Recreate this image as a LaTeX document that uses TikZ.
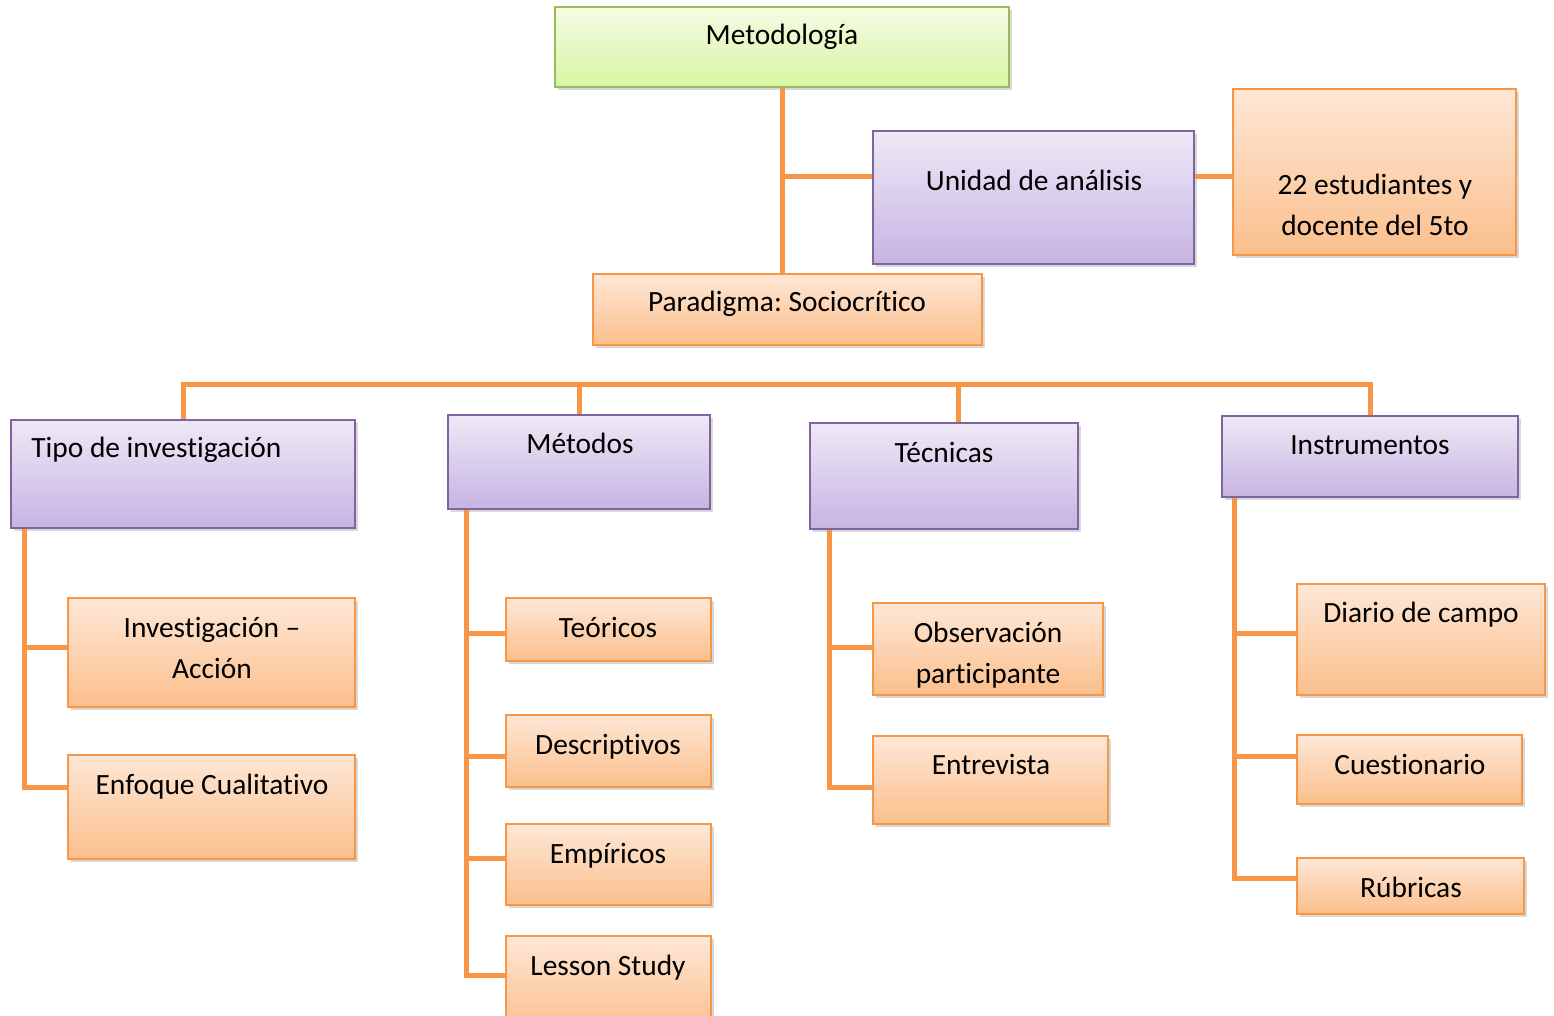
\documentclass[tikz,border=0pt]{standalone}
\usepackage{fontspec}
\setmainfont{Carlito}[Ligatures={NoCommon}]
\frenchspacing
\usetikzlibrary{shadows}
\definecolor{obord}{HTML}{F79646}
\definecolor{otop}{HTML}{FEE7D6}
\definecolor{obot}{HTML}{FBBF8C}
\definecolor{pbord}{HTML}{8064A2}
\definecolor{ptop}{HTML}{EEE9F6}
\definecolor{pbot}{HTML}{C6B4E2}
\definecolor{gbord}{HTML}{9BBB59}
\definecolor{gtop}{HTML}{F5FBE4}
\definecolor{gbot}{HTML}{D7F5A2}
\tikzset{
  box/.style={line width=1pt, inner sep=0pt,
    drop shadow={opacity=0.3, shadow xshift=1.5pt, shadow yshift=-1.5pt}},
  obox/.style={box, draw=obord, top color=otop, bottom color=obot},
  pbox/.style={box, draw=pbord, top color=ptop, bottom color=pbot},
  gbox/.style={box, draw=gbord, top color=gtop, bottom color=gbot},
  conn/.style={draw=obord, line width=2.5pt},
  txt/.style={anchor=base, inner sep=0pt, font=\fontsize{14.7}{17}\selectfont},
}
\newcommand\mybox[6]{\node[#1, minimum width={(#5-#3)*0.5pt}, minimum height={(#6-#4)*0.5pt}] (#2) at ({(#3+#5)/2},{(#4+#6)/2}) {};}
\begin{document}
\begin{tikzpicture}[x=0.5pt,y=-0.5pt]
\useasboundingbox[fill=white] (0,0) rectangle (1554,1016);
% top part
\mybox{gbox}{met}{555}{7}{1009}{87}
\mybox{pbox}{uni}{873}{131}{1194}{264}
\mybox{obox}{est}{1233}{89}{1516}{255}
\mybox{obox}{par}{593}{274}{982}{345}
% level headers
\mybox{pbox}{tipo}{11}{420}{355}{528}
\mybox{pbox}{mets}{448}{415}{710}{509}
\mybox{pbox}{tec}{810}{423}{1078}{529}
\mybox{pbox}{ins}{1222}{416}{1518}{497}
% children
\mybox{obox}{ia}{68}{598}{355}{707}
\mybox{obox}{enf}{68}{755}{355}{859}
\mybox{obox}{teo}{506}{598}{711}{661}
\mybox{obox}{des}{506}{715}{711}{787}
\mybox{obox}{emp}{506}{824}{711}{905}
\mybox{obox}{les}{506}{936}{711}{1030}
\mybox{obox}{obs}{873}{603}{1103}{695}
\mybox{obox}{ent}{873}{736}{1108}{824}
\mybox{obox}{dia}{1297}{584}{1545}{695}
\mybox{obox}{cue}{1297}{735}{1522}{804}
\mybox{obox}{rub}{1297}{858}{1524}{914}
% texts
\node[txt] (tmet) at (782,45) {Metodología};
\node[txt] (tuni) at (1034,191) {Unidad de análisis};
\node[txt] (test1) at (1375,195) {22 estudiantes y};
\node[txt] (test2) at (1375,236) {docente del 5to};
\node[txt] (tpar) at (787,312) {Paradigma: Sociocrítico};
\node[txt, anchor=base west] (ttipo) at (31,458) {Tipo de investigación};
\node[txt] (tmets) at (580,453) {Métodos};
\node[txt] (ttec) at (944,462) {Técnicas};
\node[txt] (tins) at (1370,454) {Instrumentos};
\node[txt] (tia1) at (212,637) {Investigación –};
\node[txt] (tia2) at (212,678) {Acción};
\node[txt] (tenf) at (212,794) {Enfoque Cualitativo};
\node[txt] (tteo) at (608,637) {Teóricos};
\node[txt] (tdes) at (608,754) {Descriptivos};
\node[txt] (temp) at (608,863) {Empíricos};
\node[txt] (tles) at (608,975) {Lesson Study};
\node[txt] (tobs1) at (988,642) {Observación};
\node[txt] (tobs2) at (988,683) {participante};
\node[txt] (tent) at (991,774) {Entrevista};
\node[txt] (tdia) at (1421,622) {Diario de campo};
\node[txt] (tcue) at (1410,774) {Cuestionario};
\node[txt] (trub) at (1411,897) {Rúbricas};
% top connectors
\coordinate (uniP) at ([yshift=10.25pt]uni.west);
\coordinate (uniQ) at ([yshift=10.25pt]uni.east);
\draw[conn] (met.south) -- (met.south |- par.north);
\draw[conn] (met.south |- uniP) -- (uniP);
\draw[conn] (uniQ) -- (uniQ -| est.west);
% bus
\coordinate (bus) at (0,385);
\coordinate (tecN) at ([xshift=7pt]tec.north);
\draw[conn] (tipo.north) -- (tipo.north |- bus) -- (ins.north |- bus) -- (ins.north);
\draw[conn] (mets.north) -- (mets.north |- bus);
\draw[conn] (tecN) -- (tecN |- bus);
% trunks
\coordinate (ta) at ([xshift=7pt]tipo.south west);
\coordinate (tb) at ([xshift=9.5pt]mets.south west);
\coordinate (tc) at ([xshift=10pt]tec.south west);
\coordinate (td) at ([xshift=6.5pt]ins.south west);
\coordinate (iaP) at ([yshift=2.75pt]ia.west);
\coordinate (enfP) at ([yshift=10pt]enf.west);
\coordinate (teoP) at ([yshift=-1.75pt]teo.west);
\coordinate (desP) at ([yshift=-2.5pt]des.west);
\coordinate (empP) at ([yshift=3.25pt]emp.west);
\coordinate (lesP) at ([yshift=4pt]les.west);
\coordinate (obsP) at ([yshift=1pt]obs.west);
\coordinate (entP) at ([yshift=-3.5pt]ent.west);
\coordinate (diaP) at ([yshift=3.25pt]dia.west);
\coordinate (cueP) at ([yshift=6.75pt]cue.west);
\coordinate (rubP) at ([yshift=4pt]rub.west);
\draw[conn] (ta) -- (ta |- enfP) -- (enfP);
\draw[conn] (iaP) -- (ta |- iaP);
\draw[conn] (tb) -- (tb |- lesP) -- (lesP);
\draw[conn] (teoP) -- (tb |- teoP);
\draw[conn] (desP) -- (tb |- desP);
\draw[conn] (empP) -- (tb |- empP);
\draw[conn] (tc) -- (tc |- entP) -- (entP);
\draw[conn] (obsP) -- (tc |- obsP);
\draw[conn] (td) -- (td |- rubP) -- (rubP);
\draw[conn] (diaP) -- (td |- diaP);
\draw[conn] (cueP) -- (td |- cueP);
\end{tikzpicture}
\end{document}
